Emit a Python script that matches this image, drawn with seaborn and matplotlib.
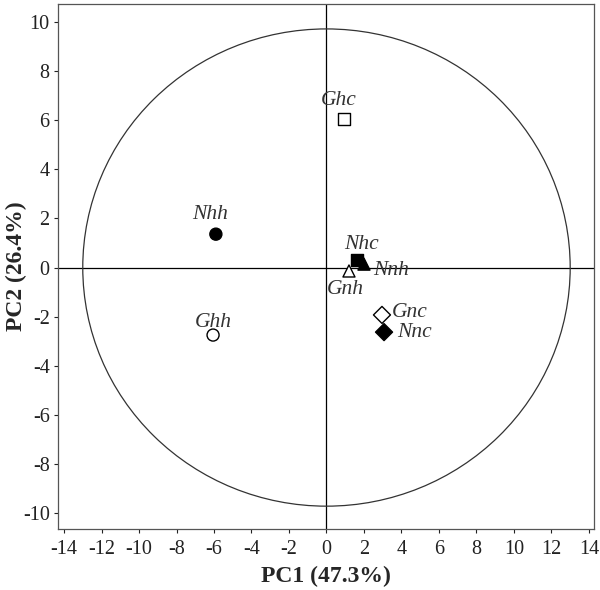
import pandas as pd
import seaborn as sns
import matplotlib.pyplot as plt
from matplotlib.patches import Ellipse

# PCA scores
samples = ['Ghc', 'Nhh', 'Ghh', 'Nhc', 'Nnh', 'Gnh', 'Gnc', 'Nnc']
pc1 = [0.93, -5.9, -6.05, 1.63, 2.0, 1.2, 2.96, 3.07]
pc2 = [6.05, 1.36, -2.75, 0.3, 0.14, -0.14, -1.93, -2.63]
markers = {'Ghc': 's', 'Nhh': 'o', 'Ghh': 'o', 'Nhc': 's',
           'Nnh': '^', 'Gnh': '^', 'Gnc': 'D', 'Nnc': 'D'}
fills = {'Ghc': 'white', 'Nhh': 'black', 'Ghh': 'white', 'Nhc': 'black',
         'Nnh': 'black', 'Gnh': 'white', 'Gnc': 'white', 'Nnc': 'black'}

# label offsets (data units) relative to each point
label_off = {'Ghc': (-0.3, 0.75), 'Nhh': (-0.3, 0.8), 'Ghh': (0.0, 0.5),
             'Nhc': (0.25, 0.65), 'Nnh': (1.45, -0.25), 'Gnh': (-0.2, -0.75),
             'Gnc': (1.5, 0.1), 'Nnc': (1.6, 0.0)}

df = pd.DataFrame({'sample': samples, 'PC1': pc1, 'PC2': pc2})

sns.set_style('ticks')
plt.rcParams['font.family'] = ['Liberation Serif', 'DejaVu Serif']
plt.rcParams['axes.unicode_minus'] = False

fig, ax = plt.subplots(figsize=(6, 5.9), dpi=100)
fig.subplots_adjust(left=0.0967, right=0.99, top=0.993, bottom=0.1034)

ax.axhline(0, color='black', lw=0.9, zorder=1)
ax.axvline(0, color='black', lw=0.9, zorder=1)
ax.add_patch(Ellipse((0, 0), 2 * 13.0, 2 * 9.72, fill=False, ec='#333333', lw=0.9, zorder=1))

sns.scatterplot(data=df, x='PC1', y='PC2', hue='sample', style='sample',
                palette=fills, markers=markers, s=75, edgecolor='black',
                linewidth=1.0, legend=False, ax=ax, zorder=3)

for name, x, y in zip(samples, pc1, pc2):
    dx, dy = label_off[name]
    ax.text(x + dx, y + dy, name, style='italic', fontsize=15.5,
            ha='center', va='center', color='#333333')

ax.set_xlim(-14.32, 14.27)
ax.set_ylim(-10.65, 10.73)
ax.set_xticks(range(-14, 15, 2))
ax.set_yticks(range(-10, 11, 2))
ax.tick_params(direction='out', length=3, width=0.8, labelsize=14.5, colors='#222222', pad=3)
ax.tick_params(axis='x', pad=5)
for sp in ax.spines.values():
    sp.set_visible(True)
    sp.set_color('#555555')
    sp.set_linewidth(0.9)

ax.set_xlabel('PC1 (47.3%)', fontsize=17, fontweight='bold', labelpad=5)
ax.set_ylabel('PC2 (26.4%)', fontsize=17, fontweight='bold', labelpad=-3)

plt.savefig('out.png', dpi=100)
